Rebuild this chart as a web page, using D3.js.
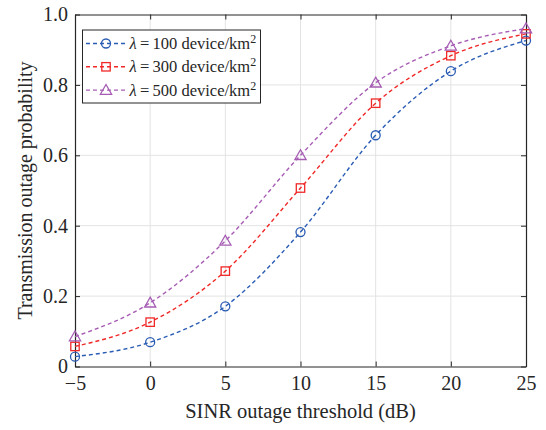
<!DOCTYPE html>
<html>
<head>
<meta charset="utf-8">
<script src="https://cdn.jsdelivr.net/npm/d3@7/dist/d3.min.js"></script>
<style>
  html, body { margin: 0; padding: 0; background: #fff; }
  svg { display: block; }
  svg text, svg tspan { font-family: "Liberation Serif", "Times New Roman", serif !important; fill: #262626; }
</style>
</head>
<body>
<svg id="chart" width="546" height="430"></svg>
<script>
// SINR outage threshold (dB)
const thresholds = [-5, 0, 5, 10, 15, 20, 25];
// Transmission outage probability per device density
const p100 = [0.028, 0.069, 0.171, 0.382, 0.657, 0.839, 0.926];
const p300 = [0.057, 0.126, 0.271, 0.507, 0.748, 0.883, 0.945];
const p500 = [0.085, 0.181, 0.357, 0.600, 0.806, 0.911, 0.960];
const densities = [100, 300, 500];
const xTicks = [-5, 0, 5, 10, 15, 20, 25];
const yTicks = [0, 0.2, 0.4, 0.6, 0.8, 1.0];

const series = [
  { lambda: densities[0], values: p100, color: "#2a5cb4", marker: "circle" },
  { lambda: densities[1], values: p300, color: "#f02828", marker: "square" },
  { lambda: densities[2], values: p500, color: "#a65cb4", marker: "triangle" }
];

const SERIF = "'Liberation Serif', 'Times New Roman', serif";
const svg = d3.select("#chart");
const m = { left: 75, right: 20, top: 14.5, bottom: 63.5 };
const W = 546, H = 430;
const x = d3.scaleLinear().domain([-5, 25]).range([m.left, W - m.right]);
const y = d3.scaleLinear().domain([0, 1]).range([H - m.bottom, m.top]);

// grid
const grid = svg.append("g").attr("stroke", "#e3e3e3").attr("stroke-width", 1);
xTicks.slice(1, -1).forEach(t => grid.append("line")
  .attr("x1", x(t)).attr("x2", x(t)).attr("y1", y(0)).attr("y2", y(1)));
yTicks.slice(1, -1).forEach(t => grid.append("line")
  .attr("x1", x(-5)).attr("x2", x(25)).attr("y1", y(t)).attr("y2", y(t)));

// axes with inward ticks
const fmtY = d => d === 0 ? "0" : d3.format(".1f")(d);
const fmtX = d => d < 0 ? "\u2212" + Math.abs(d) : String(d);
const axisColor = "#262626";

const gx = svg.append("g").attr("transform", `translate(0,${y(0)})`)
  .call(d3.axisBottom(x).tickValues(xTicks).tickFormat(fmtX).tickSizeInner(-5).tickSizeOuter(0).tickPadding(9));
const gxTop = svg.append("g").attr("transform", `translate(0,${y(1)})`)
  .call(d3.axisTop(x).tickValues(xTicks).tickFormat("").tickSizeInner(-5).tickSizeOuter(0));
const gy = svg.append("g").attr("transform", `translate(${x(-5)},0)`)
  .call(d3.axisLeft(y).tickValues(yTicks).tickFormat(fmtY).tickSizeInner(-5).tickSizeOuter(0).tickPadding(7));
const gyR = svg.append("g").attr("transform", `translate(${x(25)},0)`)
  .call(d3.axisRight(y).tickValues(yTicks).tickFormat("").tickSizeInner(-5).tickSizeOuter(0));

[gx, gxTop, gy, gyR].forEach(g => {
  g.attr("font-family", SERIF).attr("font-size", 20);
  g.select(".domain").attr("stroke", axisColor).attr("stroke-width", 1.2);
  g.selectAll(".tick line").attr("stroke", axisColor).attr("stroke-width", 1);
  g.selectAll(".tick text").attr("font-size", 20).attr("fill", "#262626");
});

// axis titles
svg.append("text").attr("x", (x(-5) + x(25)) / 2).attr("y", 418)
  .attr("text-anchor", "middle").attr("font-family", SERIF).attr("font-size", 20.5)
  .text("SINR outage threshold (dB)");
svg.append("text").attr("transform", `translate(32,${(y(0) + y(1)) / 2}) rotate(-90)`)
  .attr("text-anchor", "middle").attr("font-family", SERIF).attr("font-size", 20)
  .text("Transmission outage probability");

// markers
function drawMarker(g, type, cx, cy, color) {
  if (type === "circle") {
    g.append("circle").attr("cx", cx).attr("cy", cy).attr("r", 4.5)
      .attr("fill", "none").attr("stroke", color).attr("stroke-width", 1.3);
  } else if (type === "square") {
    g.append("rect").attr("x", cx - 4.2).attr("y", cy - 4.2).attr("width", 8.4).attr("height", 8.4)
      .attr("fill", "none").attr("stroke", color).attr("stroke-width", 1.3);
  } else {
    const s = 5.6;
    g.append("path")
      .attr("d", `M${cx},${cy - s}L${cx + s},${cy + s * 0.75}L${cx - s},${cy + s * 0.75}Z`)
      .attr("fill", "none").attr("stroke", color).attr("stroke-width", 1.3);
  }
}

const line = d3.line().x(d => x(d[0])).y(d => y(d[1])).curve(d3.curveMonotoneX);
series.forEach(s => {
  const pts = thresholds.map((t, i) => [t, s.values[i]]);
  svg.append("path").datum(pts).attr("d", line)
    .attr("fill", "none").attr("stroke", s.color).attr("stroke-width", 1.4)
    .attr("stroke-dasharray", "4,3");
  const mg = svg.append("g");
  pts.forEach(p => drawMarker(mg, s.marker, x(p[0]), y(p[1]), s.color));
});

// legend
const lg = svg.append("g");
lg.append("rect").attr("x", 82.5).attr("y", 30).attr("width", 178).attr("height", 73)
  .attr("fill", "#fff").attr("stroke", "#262626").attr("stroke-width", 1);
series.forEach((s, i) => {
  const cy = 43.5 + i * 23.3;
  lg.append("line").attr("x1", 86).attr("x2", 125).attr("y1", cy).attr("y2", cy)
    .attr("stroke", s.color).attr("stroke-width", 1.4).attr("stroke-dasharray", "4,3");
  drawMarker(lg, s.marker, 106, cy, s.color);
  const t = lg.append("text").attr("x", 129.5).attr("y", cy + 5.5)
    .attr("font-family", SERIF).attr("font-size", 16.5);
  t.append("tspan").attr("font-style", "italic").text("\u03bb");
  t.append("tspan").text("\u2009=\u2009" + s.lambda + " device/km");
  t.append("tspan").attr("dy", -6).attr("font-size", 12).text("2");
});
</script>
</body>
</html>
